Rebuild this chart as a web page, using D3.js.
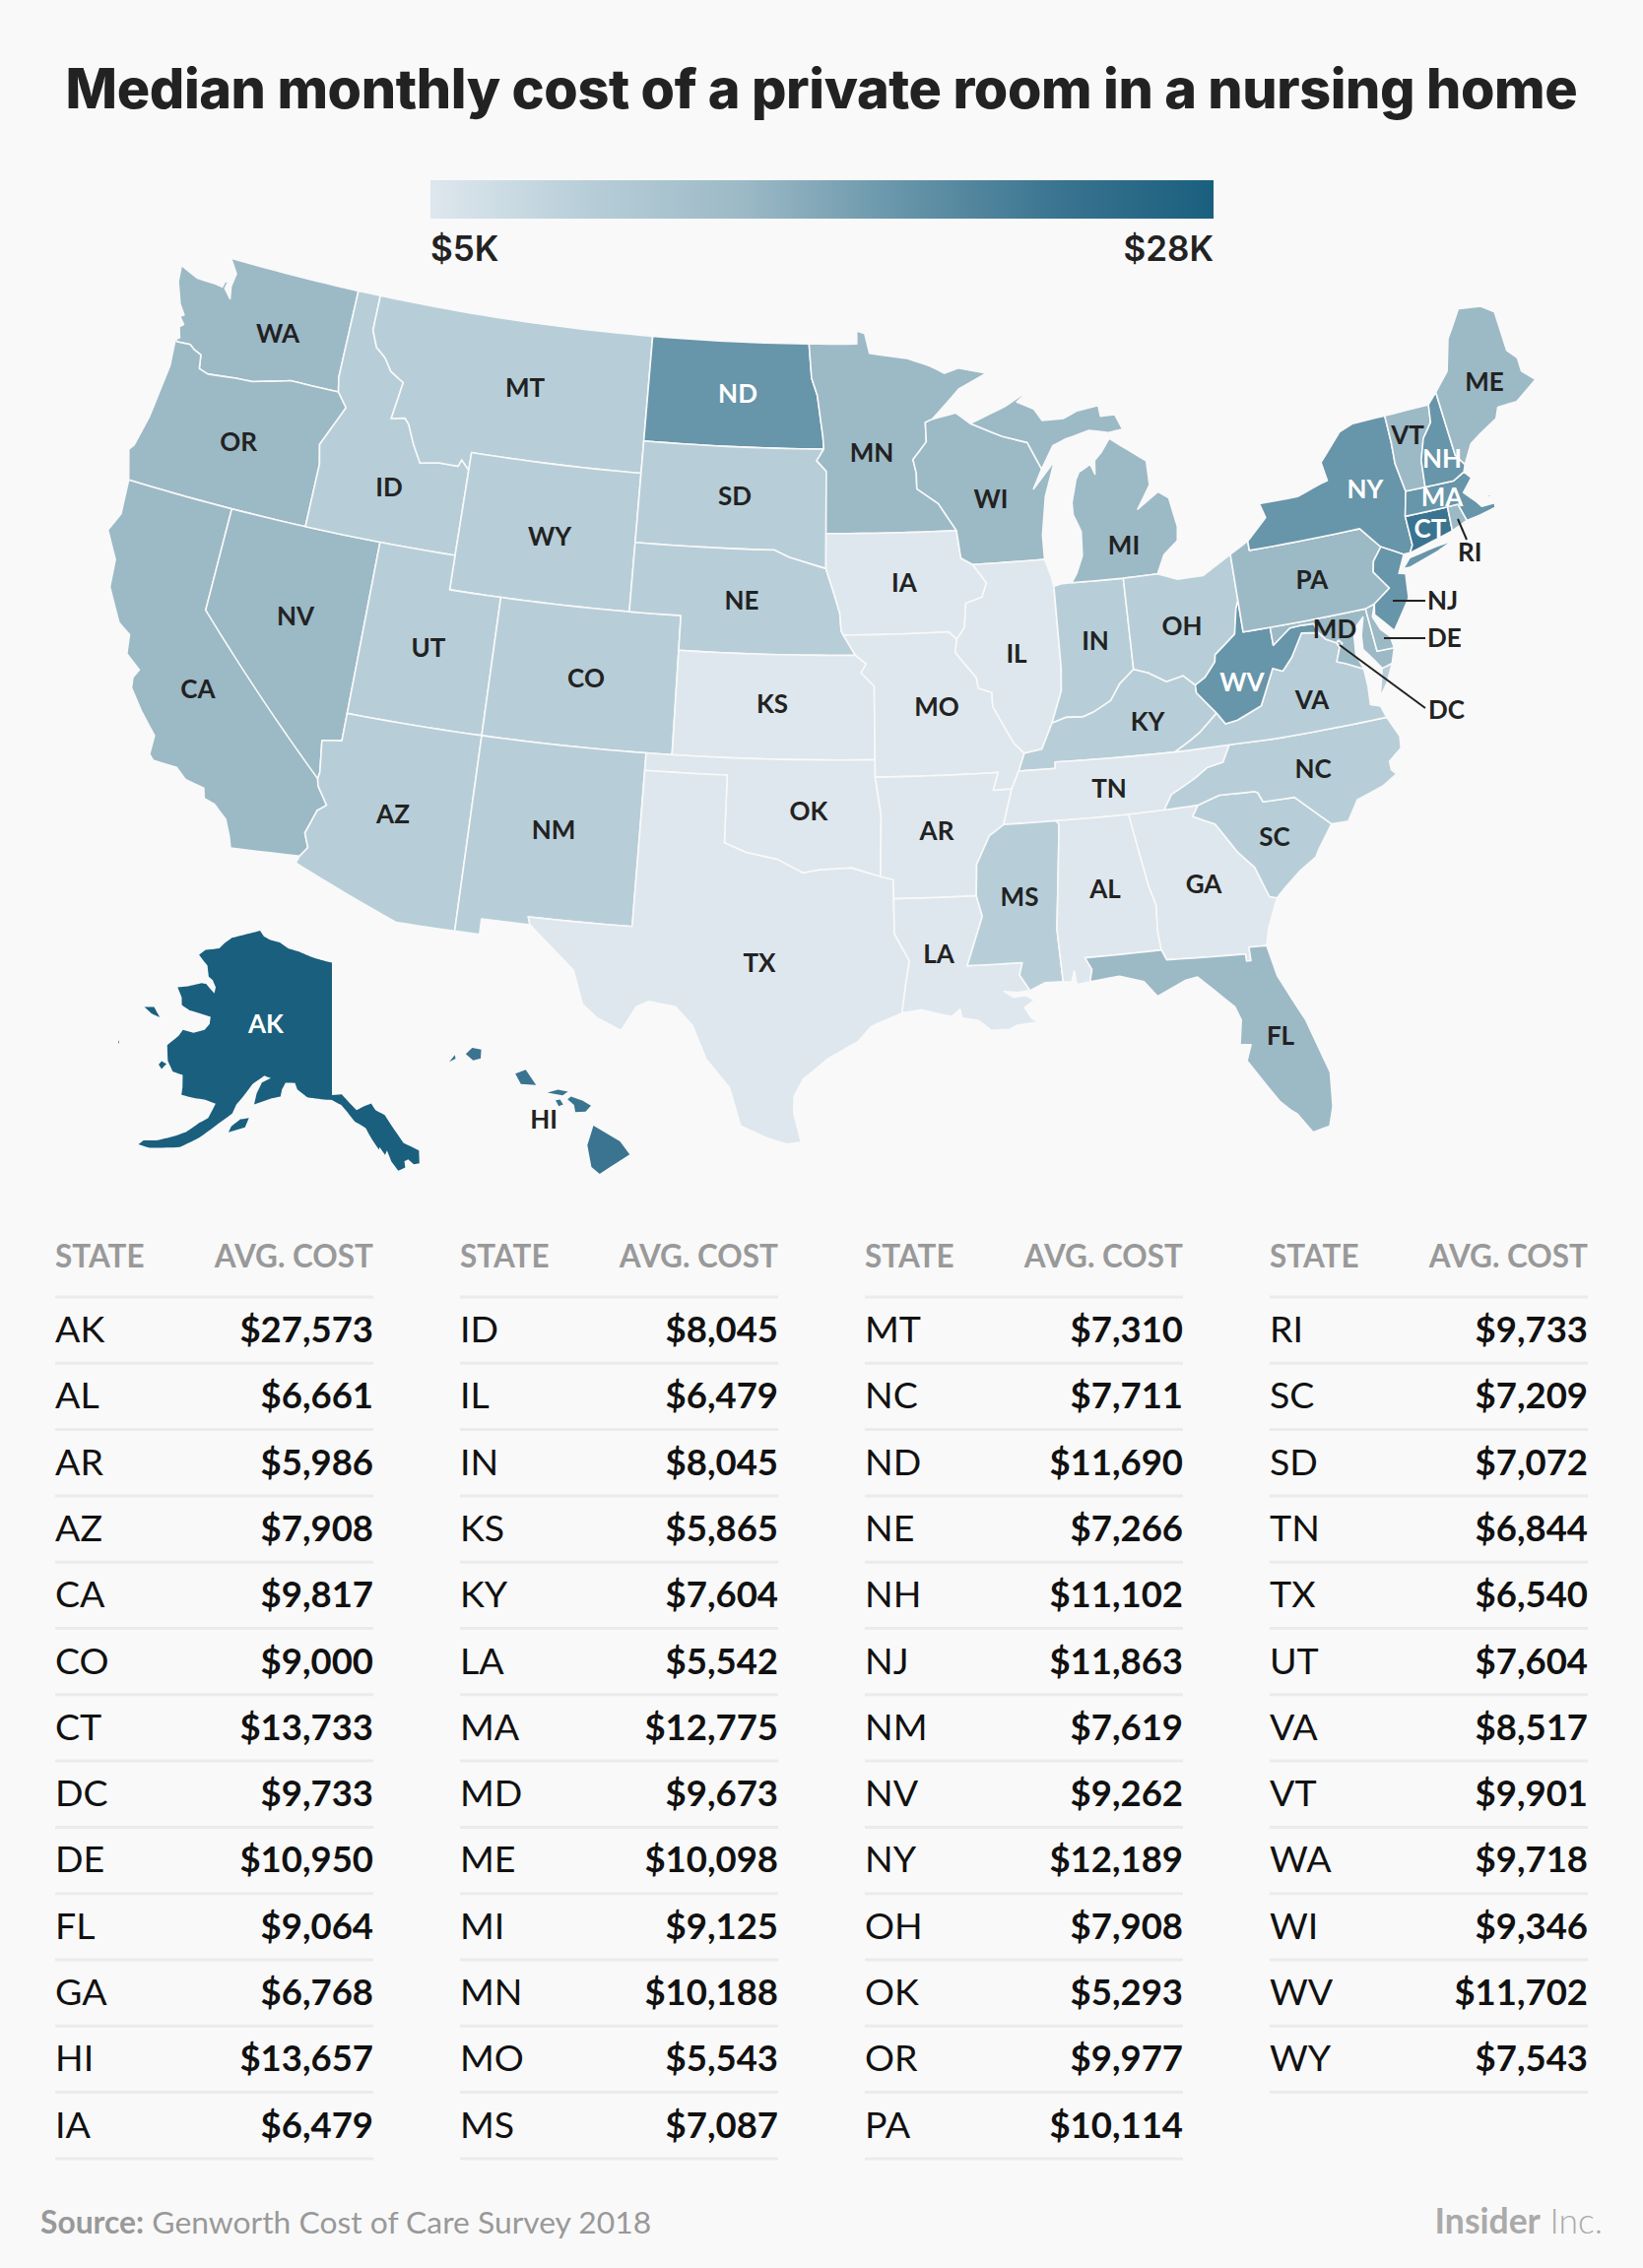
<!DOCTYPE html>
<html>
<head>
<meta charset="utf-8">
<script src="https://cdn.jsdelivr.net/npm/d3@7"></script>
<style>
  html, body { margin: 0; background: #f9f9f9; }
  svg { display: block; }
</style>
</head>
<body>
<svg id="chart" width="1668" height="2303"></svg>
<script>
'use strict'

const stateCodes = ['AK', 'AL', 'AR', 'AZ', 'CA', 'CO', 'CT', 'DC', 'DE', 'FL', 'GA', 'HI', 'IA',
  'ID', 'IL', 'IN', 'KS', 'KY', 'LA', 'MA', 'MD', 'ME', 'MI', 'MN', 'MO', 'MS',
  'MT', 'NC', 'ND', 'NE', 'NH', 'NJ', 'NM', 'NV', 'NY', 'OH', 'OK', 'OR', 'PA',
  'RI', 'SC', 'SD', 'TN', 'TX', 'UT', 'VA', 'VT', 'WA', 'WI', 'WV', 'WY']
const stateCosts = [27573, 6661, 5986, 7908, 9817, 9000, 13733, 9733, 10950, 9064, 6768, 13657, 6479,
  8045, 6479, 8045, 5865, 7604, 5542, 12775, 9673, 10098, 9125, 10188, 5543, 7087,
  7310, 7711, 11690, 7266, 11102, 11863, 7619, 9262, 12189, 7908, 5293, 9977, 10114,
  9733, 7209, 7072, 6844, 6540, 7604, 8517, 9901, 9718, 9346, 11702, 7543]

const binLimits = [7000, 9001, 11000, 13000, 20000]
const binColours = ['#dee7ed', '#b7ced8', '#9cb9c6', '#6795a9', '#3a7490', '#1a5f7e']
const legendStops = ['#dee7ed', '#b7ced8', '#9cb9c6', '#6795a9', '#3a7490', '#1a5f7e']
const legendLabels = ['$5K', '$28K']
const whiteLabels = ['ND', 'NY', 'NH', 'MA', 'CT', 'WV', 'AK']

// shared borders, lon,lat
const arcs = {
  columbia: '-118.98,46 -119.3,45.93 -120.5,45.7 -121.2,45.67 -122,45.6 -122.35,45.57 -122.75,45.65 -122.85,46.05 -123.2,46.15 -123.4,46.25 -123.95,46.22 -124.05,46.27',
  snake: '-117.03,43.85 -117.2,44.4 -116.9,44.9 -116.47,45.6 -116.92,46',
  bitterroot: '-116.05,47.97 -115.75,47.5 -115.3,47.25 -114.95,46.9 -114.35,46.65 -114.55,45.56 -114,45.65 -113.8,45.5 -113.45,44.95 -113.05,44.45 -112.3,44.55 -111.5,44.55 -111.4,44.75 -111.05,44.48',
  colorado: '-114.75,36.1 -114.6,35.2 -114.63,35 -114.57,34.8 -114.14,34.3 -114.43,34.1 -114.7,33.4 -114.5,33 -114.72,32.72',
  redN: '-97.23,49 -97.1,48 -96.85,47.5 -96.6,46.3 -96.56,45.94',
  moIa: '-96.45,42.49 -96.1,41.7 -95.9,41.2 -95.85,40.7 -95.77,40.58',
  redS: '-100,34.56 -99.2,34.3 -98.1,34.13 -97.2,33.75 -96.6,33.85 -95.5,33.9 -94.48,33.64',
  sabine: '-94.04,31.99 -93.55,31.2 -93.7,30.5 -93.84,29.7',
  missMn: '-92.29,46.1 -92.87,45.6 -92.75,45.2 -92.75,44.75 -91.9,44.3 -91.22,43.5',
  missWi: '-91.22,43.5 -91.1,42.7 -90.65,42.5',
  missIl: '-90.65,42.5 -90.15,41.95 -90.35,41.55 -91,41.4 -91.1,40.7 -91.42,40.38',
  missMo: '-91.42,40.38 -91.5,40 -90.75,39.25 -90.7,38.95 -90.2,38.8 -90.2,38.4 -89.5,37.3 -89.15,37',
  kyMo: '-89.15,37 -89.4,36.5',
  tnMo: '-89.4,36.5 -89.7,36',
  tnAr: '-89.7,36 -90.07,35',
  arMs: '-90.07,35 -90.6,34.7 -91.1,33.9 -91.17,33',
  msLa: '-91.17,33 -91,32.4 -91.6,31',
  ilKy: '-89.15,37 -88.5,37.08 -88.05,37.8',
  inKy: '-88.05,37.8 -87.5,37.93 -86.9,37.9 -86.5,38 -85.8,38.28 -85.4,38.73 -84.82,39.1',
  ohKy: '-84.82,39.1 -84.3,38.95 -83.65,38.63 -83,38.73 -82.6,38.42',
  ohWv: '-82.6,38.42 -82.2,38.6 -81.75,39 -81.7,39.2 -80.85,39.7 -80.65,40.4 -80.52,40.64',
  wabash: '-88.05,37.8 -87.6,38.7 -87.53,39.35',
  kyWv: '-82.6,38.42 -82.6,38.2 -81.97,37.54',
  kyVa: '-81.97,37.54 -82.7,37.05 -83.1,36.85 -83.68,36.6',
  wvVa: '-81.97,37.54 -81.7,37.2 -81.25,37.25 -80.3,37.55 -79.65,38.55 -79.3,38.42 -78.87,38.77 -78.35,39.4 -77.72,39.32',
  wvMd: '-77.72,39.32 -77.83,39.6 -78.4,39.62 -78.75,39.6 -79.48,39.2',
  vaMd: '-77.72,39.32 -77.5,39.1 -77.12,38.93 -77.04,38.79 -77.25,38.4 -76.95,38.3 -76.32,38.04',
  ncTn: '-81.68,36.59 -82,36.12 -82.6,36.03 -83.1,35.77 -84,35.4 -84.32,34.99',
  ncSc: '-78.55,33.86 -79.67,34.8 -80.8,34.82 -80.93,35.1 -81.05,35.15 -82.3,35.2 -83.11,35',
  savannah: '-83.11,35 -83.35,34.7 -82.6,34.4 -81.95,33.5 -81.45,33 -81.1,32.1 -80.85,32.03',
  alGa: '-85.6,34.98 -85.18,32.87 -85,32.3 -85.05,31.55 -85,31',
  flGa: '-85,31 -84.86,30.7 -82.2,30.57 -82.2,30.36 -82.05,30.36 -82.05,30.75 -81.45,30.72',
  njPa: '-74.7,41.36 -75.1,41 -75.2,40.7 -74.73,40.15 -75.42,39.8',
  vtNh: '-71.5,45.01 -71.6,44.5 -72.05,44.1 -72.35,43.5 -72.46,42.73',
  nyVt: '-73.35,45.01 -73.35,44.2 -73.4,43.6 -73.25,42.75',
  nyNe: '-73.25,42.75 -73.5,42.05 -73.49,41.2 -73.65,41',
  nhMe: '-71.08,45.3 -70.98,43.4 -70.7,43.07',
  miWi: '-90.42,46.57 -89.1,46.13 -88.1,45.9 -87.6,45.1'
}

// each state is a list of rings, each ring a list of coordinate runs or arc names (r: = reversed)
const stateRings = {
  WA: [['-122.76,49 -117.03,49 -117.04,46.42 -116.92,46', 'columbia', '-123.9,46.35 -124.05,46.65 -123.9,46.75 -124.15,46.95 -124,47.02 -124.3,47.3 -124.65,47.9 -124.73,48.38 -123.9,48.16 -123.1,48.15 -122.78,48.12 -122.72,48.3 -122.6,48.3 -122.65,48.1 -122.32,47.85 -122.42,48.2 -122.35,48.6']],
  OR: [['-124.05,46.27 -123.95,45.5 -124.05,44.7 -124.15,43.9 -124.4,43 -124.55,42.84 -124.2,42 -117.03,42', 'snake', 'columbia']],
  CA: [['-124.2,42 -120,42 -120,39', 'colorado', '-117.12,32.53 -117.25,32.85 -117.5,33.3 -118,33.65 -118.4,33.75 -118.5,34.03 -119.2,34.15 -119.6,34.42 -120.47,34.45 -120.65,34.6 -120.65,35.15 -121.3,35.7 -121.9,36.3 -121.95,36.6 -121.8,36.85 -122.4,37.2 -122.5,37.75 -123,38 -123.7,38.9 -123.8,39.7 -124.4,40.45 -124.1,41']],
  NV: [['-120,42 -114.04,42 -114.04,36.2 -114.75,36.1 -114.6,35.2 -114.63,35 -120,39']],
  ID: [['-117.03,49 -116.05,49', 'bitterroot', '-111.05,42 -117.03,42', 'snake', '-117.04,46.42']],
  MT: [['-116.05,49 -104.05,49 -104.05,45 -111.05,45', 'r:bitterroot']],
  WY: [['-111.05,45 -104.05,45 -104.05,41 -111.05,41']],
  UT: [['-114.04,42 -111.05,42 -111.05,41 -109.05,41 -109.05,37 -114.04,37']],
  CO: [['-109.05,41 -102.05,41 -102.05,37 -109.05,37']],
  AZ: [['-114.04,37 -109.05,37 -109.05,31.33 -111.07,31.33 -114.81,32.5', 'r:colorado', '-114.04,36.2']],
  NM: [['-109.05,37 -103,37 -103.04,32 -106.62,32 -106.53,31.78 -108.2,31.78 -108.2,31.33 -109.05,31.33']],
  ND: [['-104.05,49', 'redN', '-104.05,45.94']],
  SD: [['-104.05,45.94 -96.56,45.94 -96.85,45.6 -96.45,45.3 -96.45,42.49 -97.9,42.8 -98.5,43 -104.05,43']],
  NE: [['-104.05,43 -98.5,43 -97.9,42.8', 'moIa', '-95.31,40 -102.05,40 -102.05,41 -104.05,41']],
  KS: [['-102.05,40 -95.31,40 -94.9,39.75 -95.1,39.5 -94.61,39.11 -94.62,37 -102.05,37']],
  OK: [['-103,37 -94.62,37 -94.62,36.5 -94.43,35.4', 'r:redS', '-100,36.5 -103,36.5']],
  TX: [['-106.62,32 -103.04,32 -103,36.5 -100,36.5', 'redS', '-94.04,33.55', 'sabine', '-94.7,29.4 -94.9,29.3 -95.3,28.9 -96.3,28.4 -97.1,27.8 -97.4,27.3 -97.4,26.8 -97.15,25.96 -97.6,25.9 -98.2,26.05 -99.1,26.4 -99.5,27.5 -100.3,28.3 -100.8,29.25 -101.4,29.77 -102.3,29.88 -102.7,29.7 -103.15,28.98 -104,29.3 -104.5,29.65 -104.9,30.6 -106,31.4 -106.53,31.78']],
  MN: [['-97.23,49 -95.15,49 -95.15,49.38 -94.8,49.3 -94.6,48.72 -93,48.55 -92,48.3 -91.4,48.07 -90.8,48.2 -89.6,48 -90.8,47.6 -92,46.75 -92.3,46.66', 'missMn', '-96.45,43.5 -96.45,45.3 -96.85,45.6', 'r:redN']],
  IA: [['-96.45,43.5', 'missWi', 'missIl', '-91.72,40.6', 'r:moIa']],
  MO: [['-95.77,40.58 -91.72,40.6', 'missMo', 'kyMo', 'tnMo', '-90.37,36 -90.15,36.5 -94.62,36.5 -94.62,37 -94.61,39.11 -95.1,39.5 -94.9,39.75 -95.31,40']],
  AR: [['-94.62,36.5 -90.15,36.5 -90.37,36', 'tnAr', 'arMs', '-94.04,33 -94.04,33.55 -94.48,33.64 -94.43,35.4']],
  LA: [['-94.04,33', 'msLa', '-89.73,31 -89.85,30.65 -89.53,30.18 -89.95,30.15 -90.4,30.2 -90.1,30.02 -89.7,30.05 -89.4,29.9 -89.75,29.7 -89.55,29.4 -89.1,29.1 -89.45,29.25 -90.05,29.2 -90.3,29.1 -90.9,29.1 -91.3,29.4 -91.85,29.5 -91.9,29.75 -92.2,29.55 -93.2,29.78', 'r:sabine']],
  WI: [['-92.3,46.66 -92,46.75 -91,46.9', 'miWi', '-88,44.55 -87.05,45.3 -87.55,44.3 -87.8,43.2 -87.8,42.5', 'r:missWi', 'r:missMn']],
  IL: [['-90.65,42.5 -87.8,42.5 -87.6,42 -87.53,41.7', 'r:wabash', 'r:ilKy', 'r:missMo', 'r:missIl']],
  IN: [['-87.53,41.7 -87.2,41.76 -86.82,41.76 -84.8,41.73 -84.82,39.1', 'r:inKy', 'wabash']],
  MI: [['-86.82,41.76 -84.8,41.73 -83.45,41.73 -83.1,42.25 -82.5,42.6 -82.42,43 -82.6,43.85 -83,44.07 -83.9,43.65 -83.3,44.3 -83.3,45 -84.7,45.78 -85.1,45.4 -85.4,45.2 -85.45,44.8 -85.6,45.1 -86.1,44.9 -86.25,44.7 -86.5,44.05 -86.5,43.7 -86.25,43.2 -86.3,42.5 -86.6,42'],
    ['miWi', '-87.05,45.75 -86.5,45.9 -85.5,46.08 -84.7,45.95 -84.1,46 -84.35,46.45 -84.95,46.45 -85,46.77 -85.9,46.68 -86.5,46.5 -87.4,46.5 -87.7,46.85 -88.4,47.1 -87.75,47.45 -88.9,47']],
  OH: [['-84.8,41.73 -83.45,41.73 -82.7,41.5 -81.7,41.5 -80.52,41.98', 'r:ohWv', 'r:ohKy']],
  KY: [['-88.07,36.5 -89.4,36.5', 'r:kyMo', 'ilKy', 'inKy', 'ohKy', 'kyWv', 'kyVa', '-88.05,36.68']],
  TN: [['-90.07,35', 'r:tnAr', 'r:tnMo', '-88.07,36.5 -88.05,36.68 -83.68,36.6', 'ncTn', '-85.6,34.98 -88.2,35']],
  MS: [['-91.17,33', 'r:arMs', '-88.2,35 -88.1,34.9 -88.47,31.9 -88.4,30.37 -89,30.38 -89.53,30.18 -89.85,30.65 -89.73,31 -91.6,31', 'r:msLa']],
  AL: [['-88.2,35', 'alGa', '-87.6,31 -87.4,30.65 -87.5,30.3 -87.95,30.25 -88,30.65 -88.12,30.33 -88.4,30.37 -88.47,31.9 -88.1,34.9']],
  GA: [['-85.6,34.98 -84.32,34.99', 'savannah', '-81.3,31.2', 'r:flGa', 'r:alGa']],
  FL: [['-87.6,31', 'flGa', '-81.25,29.8 -80.55,28.4 -80.05,26.8 -80.15,25.8 -80.35,25.25 -80.9,25.15 -81.3,25.75 -81.5,25.9 -81.8,26.2 -82.65,27.5 -82.45,27.95 -82.8,28 -82.65,28.7 -82.8,29.1 -83.4,29.65 -83.9,30.1 -84.3,30.05 -85.3,29.68 -85.7,30.15 -86.5,30.38 -87.5,30.3 -87.4,30.65']],
  SC: [['ncSc', 'savannah', '-80.5,32.3 -79.9,32.7 -79.3,33 -79.15,33.2']],
  NC: [['-84.32,34.99', 'r:ncTn', '-80,36.55 -75.87,36.55 -75.55,35.95 -75.6,35.6 -76.1,35.3 -76.1,35.05 -75.95,34.9 -76.5,34.65 -77.5,34.4 -77.95,33.85', 'ncSc']],
  VA: [['-83.68,36.6 -81.68,36.59 -80,36.55 -75.87,36.55 -76,36.9 -76.35,37 -76.3,37.55', 'r:vaMd', 'r:wvVa', 'kyVa'],
    ['-75.95,37.15 -75.65,37.95 -75.25,38.03 -75.6,37.5']],
  WV: [['ohWv', '-80.52,39.72 -79.48,39.72', 'r:wvMd', 'r:wvVa', 'r:kyWv']],
  MD: [['-79.48,39.72 -75.79,39.72 -75.7,38.46 -75.05,38.45 -75.25,38.03 -75.65,37.95 -75.85,38.2 -76.2,38.6 -76.15,39 -75.95,39.5 -76.4,39.2 -76.5,38.5', 'r:vaMd', 'wvMd']],
  DE: [['-75.79,39.72 -75.42,39.8 -75.6,39.45 -75.4,39.05 -75.1,38.8 -75.05,38.45 -75.7,38.46']],
  DC: [['-77.12,38.93 -77.04,39 -76.91,38.89 -77.04,38.79']],
  PA: [['-80.52,41.98 -80.08,42.15 -79.76,42.27 -79.76,42 -75.35,42', 'njPa', '-75.79,39.72 -80.52,39.72']],
  NY: [['-79.76,42 -79.76,42.27 -78.9,42.85 -79.05,43.27 -77.5,43.27 -76.5,43.5 -76.2,43.55 -76.3,44.1 -75.3,44.85 -74.7,45', 'nyVt', 'nyNe', '-73.9,41 -74.7,41.36 -75.35,42'],
    ['-74.05,40.6 -73.75,40.6 -72.6,40.85 -71.9,41.05 -72.6,41 -73.7,40.87']],
  NJ: [['-74.7,41.36 -73.9,41 -74.25,40.5 -74,40.45 -74.1,39.75 -74.9,38.93 -75.5,39.5', 'r:njPa']],
  CT: [['-73.5,42.05 -71.8,42.02 -71.85,41.32 -73.65,41 -73.49,41.2']],
  RI: [['-71.8,42.02 -71.38,42.02 -71.2,41.5 -71.85,41.32']],
  MA: [['-73.25,42.75 -72.46,42.73 -71.3,42.7 -70.82,42.87 -70.6,42.65 -71.05,42.3 -70.65,41.95 -70.5,41.78 -70,41.78 -70.05,42.05 -70.25,42.07 -69.95,41.9 -70,41.65 -70.65,41.55 -71.2,41.5 -71.38,42.02 -71.8,42.02 -73.5,42.05']],
  VT: [['nyVt', 'r:vtNh']],
  NH: [['vtNh', '-71.3,42.7 -70.82,42.87', 'r:nhMe']],
  ME: [['nhMe', '-70.25,43.6 -69.8,43.8 -69,44.1 -68.8,44.4 -68,44.4 -67,44.85 -67.45,45.2 -67.45,45.6 -67.78,45.9 -67.8,47.07 -68.3,47.35 -69,47.43 -69.23,47.46 -70,46.7 -70.4,45.8']],
  AK: [['-141,69.65 -141,60.3 -139.6,60.35 -139,60 -137.6,59.2 -136.5,59.45 -135.5,59.6 -135,59.1 -133.8,58.7 -131.8,56.6 -130,55.9 -130.2,55 -130.9,55 -131.5,55.4 -132,55.3 -132,54.85 -132.9,54.7 -133.6,55.4 -134,56.2 -134.3,55.9 -134.9,56.5 -135,56.3 -135.9,57.2 -136.5,57.9 -137.3,58.2 -137.9,58.4 -138.9,59.1 -139.7,59.6 -141,59.95 -142.5,60 -144.5,60.1 -146,60.6 -146.4,61.05 -147.8,61 -148.2,60.5 -148.3,60 -149.5,59.8 -151.8,59.2 -151.7,60 -151.2,60.8 -150,61.2 -151,61.3 -152.5,60.6 -153.5,59.6 -154.2,59 -154.5,58.3 -156,57.4 -158,56.1 -160,55.1 -162,54.7 -163.5,54.4 -164.9,54.35 -164.5,54.75 -163,55.05 -161,55.75 -159.8,56.25 -158.5,57.1 -157.5,57.6 -157,58.7 -158.5,58.8 -160,58.7 -161.8,58.65 -162,59.2 -162.5,60 -164,60 -165.2,60.6 -166.1,61.6 -165,62.5 -164.7,63 -163,63.05 -161.5,63.5 -161,64 -161.2,64.5 -162.8,64.5 -164.8,64.45 -166.3,64.6 -166.8,65.1 -168.1,65.65 -166.5,66 -164.5,66.55 -163.7,66.6 -161.8,66.15 -161.9,66.6 -162.8,67 -163.7,67.15 -164.6,67.85 -166.8,68.35 -166,68.85 -163.6,69.3 -163,69.75 -161.9,70.3 -159.5,70.8 -156.6,71.35 -155.5,71 -154,70.85 -152,70.8 -150,70.45 -148,70.35 -145,70'],
    ['-154.5,56.95 -152.5,57.5 -152.2,58.2 -153.3,58 -154.3,57.4'],
    ['-166.2,60.1 -165.6,59.9 -165.2,60.35 -166,60.4'],
    ['-171.7,63.4 -170.3,63.7 -168.8,63.2 -170.2,63.2'],
    ['-172.9,60.5 -172.6,60.35 -172.7,60.3']],
  HI: [['-159.78,22.05 -159.6,22.23 -159.33,22.2 -159.33,21.95 -159.55,21.88'],
    ['-160.25,21.8 -160.1,22 -160.07,21.9'],
    ['-158.28,21.58 -157.98,21.71 -157.65,21.3 -158.1,21.3'],
    ['-157.3,21.1 -157,21.2 -156.7,21.16 -156.85,21.05'],
    ['-157.05,20.9 -156.92,20.93 -156.82,20.8 -156.95,20.74'],
    ['-156.7,20.95 -156.6,21.03 -156.25,20.93 -156,20.8 -156.15,20.63 -156.45,20.6 -156.5,20.8'],
    ['-155.9,20.25 -155.6,20.1 -155.1,19.85 -154.8,19.5 -155.65,18.92 -155.9,19.1 -156.05,19.7']]
}

// label anchors in page pixels
const labelAt = {
  WA: [282, 339], OR: [242, 449], CA: [201, 700], NV: [300, 626], ID: [395, 495], MT: [533, 394],
  WY: [558, 545], UT: [435, 658], CO: [595, 689], AZ: [399, 827], NM: [562, 843], ND: [749, 400],
  SD: [746, 504], NE: [753, 610], KS: [784, 715], OK: [821, 824], TX: [771, 978], MN: [885, 460],
  IA: [918, 592], MO: [951, 718], AR: [951, 844], LA: [953, 969], WI: [1006, 507], IL: [1032, 664],
  MI: [1141, 554], IN: [1112, 651], OH: [1200, 636], KY: [1165, 733], TN: [1126, 801], MS: [1035, 911],
  AL: [1122, 903], GA: [1222, 898], FL: [1300, 1052], SC: [1294, 850], NC: [1333, 781], VA: [1332, 711],
  WV: [1261, 693], PA: [1332, 589], NY: [1386, 497], VT: [1429, 442], NH: [1464, 466], MA: [1464, 505],
  CT: [1452, 537], ME: [1507, 388], MD: [1355, 639], AK: [270, 1040], HI: [552, 1137],
  RI: [1498, 561], NJ: [1467, 610], DE: [1467, 648], DC: [1468, 721]
}
const leaderLines = [
  [1480, 527, 1489, 548],
  [1414, 610, 1447, 610],
  [1405, 648, 1447, 648],
  [1360, 655, 1447, 719]
]

const inkColour = '#222222'
const svg = d3.select('#chart')

svg.append('rect').attr('width', 1668).attr('height', 2303).attr('fill', '#f9f9f9')

svg.append('text')
  .attr('x', 834).attr('y', 110)
  .attr('text-anchor', 'middle')
  .attr('font-family', 'Inter').attr('font-weight', 800).attr('font-size', 55.7)
  .attr('letter-spacing', -0.4)
  .attr('fill', inkColour)
  .text('Median monthly cost of a private room in a nursing home')

// legend
const grad = svg.append('defs').append('linearGradient').attr('id', 'legendGrad')
grad.selectAll('stop').data(legendStops).join('stop')
  .attr('offset', (d, i) => i / (legendStops.length - 1))
  .attr('stop-color', d => d)
svg.append('rect').attr('x', 437).attr('y', 183).attr('width', 795).attr('height', 39).attr('fill', 'url(#legendGrad)')
svg.selectAll('.legend-label').data(legendLabels).join('text')
  .attr('class', 'legend-label')
  .attr('x', (d, i) => i ? 1232 : 437)
  .attr('y', 265)
  .attr('text-anchor', (d, i) => i ? 'end' : 'start')
  .attr('font-family', 'Inter').attr('font-weight', 600).attr('font-size', 35)
  .attr('fill', inkColour)
  .text(d => d)

// map
const parseRun = s => s.trim().split(/\s+/).map(p => p.split(',').map(Number))
function ringPoints (tokens) {
  const pts = []
  tokens.forEach(t => {
    if (t.startsWith('r:')) pts.push(...parseRun(arcs[t.slice(2)]).reverse())
    else if (arcs[t]) pts.push(...parseRun(arcs[t]))
    else pts.push(...parseRun(t))
  })
  return pts
}
// split long edges so parallels follow the projection and not a great circle
function fineRing (pts) {
  const out = []
  pts.forEach((p, i) => {
    const q = pts[(i + 1) % pts.length]
    const n = Math.ceil(Math.hypot(q[0] - p[0], q[1] - p[1]) / 0.5) || 1
    for (let k = 0; k < n; k++) out.push([p[0] + (q[0] - p[0]) * k / n, p[1] + (q[1] - p[1]) * k / n])
  })
  out.push(out[0])
  return out
}
function stateFeature (code) {
  const polys = stateRings[code].map(tokens => {
    const ring = fineRing(ringPoints(tokens))
    return d3.geoArea({ type: 'Polygon', coordinates: [ring] }) > 2 * Math.PI ? [ring.reverse()] : [ring]
  })
  return { type: 'Feature', id: code, geometry: { type: 'MultiPolygon', coordinates: polys } }
}

const lowerProjection = d3.geoConicEqualArea().parallels([29.5, 45.5])
  .rotate([96, 0]).center([0, 37.5]).translate([850, 754]).scale(2010).precision(0.2)
const alaskaProjection = d3.geoConicEqualArea().parallels([55, 65])
  .rotate([141, 0]).center([0, 60.3]).translate([337, 1112]).scale(825).precision(0.2)
const hawaiiProjection = d3.geoConicEqualArea().parallels([8, 18])
  .rotate([157, 0]).center([0, 20.5]).translate([565, 1132]).scale(2100).angle(-3).precision(0.2)

const pathFor = code => d3.geoPath(code === 'AK' ? alaskaProjection : code === 'HI' ? hawaiiProjection : lowerProjection)
const costByState = new Map(stateCodes.map((c, i) => [c, stateCosts[i]]))
const colour = d3.scaleThreshold().domain(binLimits).range(binColours)

svg.append('g').selectAll('path')
  .data(Object.keys(stateRings).map(stateFeature))
  .join('path')
  .attr('d', d => pathFor(d.id)(d))
  .attr('fill', d => colour(costByState.get(d.id)))
  .attr('stroke', d => (d.id === 'AK' || d.id === 'HI') ? 'none' : '#f9f9f9')
  .attr('stroke-width', 1.6)
  .attr('stroke-linejoin', 'round')

svg.append('g').selectAll('line').data(leaderLines).join('line')
  .attr('x1', d => d[0]).attr('y1', d => d[1])
  .attr('x2', d => d[2]).attr('y2', d => d[3])
  .attr('stroke', inkColour).attr('stroke-width', 2)

svg.append('g').selectAll('text').data(stateCodes).join('text')
  .attr('x', d => labelAt[d][0])
  .attr('y', d => labelAt[d][1])
  .attr('dy', '0.36em')
  .attr('text-anchor', d => ['RI', 'NJ', 'DE', 'DC'].includes(d) ? 'start' : 'middle')
  .attr('dx', d => ['RI', 'NJ', 'DE', 'DC'].includes(d) ? -18 : 0)
  .attr('font-family', 'Lato').attr('font-weight', 700).attr('font-size', 26)
  .attr('fill', d => whiteLabels.includes(d) ? '#ffffff' : inkColour)
  .text(d => d)

// table
const perColumn = 13
const colLeft = d3.scaleLinear().domain([0, 1]).range([56, 467])
const rowLine = d3.scaleLinear().domain([0, 1]).range([1317, 1384.3])
const colWidth = 323

const columns = d3.range(4).map(c => stateCodes.slice(c * perColumn, (c + 1) * perColumn)
  .map((code, i) => ({ code, cost: stateCosts[c * perColumn + i], row: i })))

const cols = svg.append('g').selectAll('g').data(columns).join('g')
  .attr('transform', (d, i) => `translate(${colLeft(i)},0)`)

cols.append('text').attr('y', 1287).attr('font-family', 'Lato').attr('font-weight', 700)
  .attr('font-size', 31.5).attr('fill', '#999999').text('STATE')
cols.append('text').attr('x', colWidth).attr('y', 1287).attr('text-anchor', 'end').attr('font-family', 'Lato')
  .attr('font-weight', 700).attr('font-size', 31.5).attr('fill', '#999999').text('AVG. COST')
cols.append('line').attr('x2', colWidth).attr('y1', rowLine(0)).attr('y2', rowLine(0))
  .attr('stroke', '#ebebeb').attr('stroke-width', 3)

const rows = cols.selectAll('.row').data(d => d).join('g').attr('class', 'row')
rows.append('text').attr('y', d => rowLine(d.row) + 46)
  .attr('font-family', 'Lato').attr('font-size', 37.5).attr('fill', '#111111').text(d => d.code)
rows.append('text').attr('x', colWidth).attr('y', d => rowLine(d.row) + 46).attr('text-anchor', 'end')
  .attr('font-family', 'Lato').attr('font-weight', 700).attr('font-size', 36.5).attr('fill', '#111111')
  .text(d => '$' + d3.format(',')(d.cost))
rows.append('line').attr('x2', colWidth).attr('y1', d => rowLine(d.row + 1)).attr('y2', d => rowLine(d.row + 1))
  .attr('stroke', '#ebebeb').attr('stroke-width', 3)

// footer
const source = svg.append('text').attr('x', 41).attr('y', 2268)
  .attr('font-family', 'Lato').attr('font-size', 31.8).attr('fill', '#999999')
source.append('tspan').attr('font-weight', 700).text('Source:')
source.append('tspan').text(' Genworth Cost of Care Survey 2018')

const brand = svg.append('text').attr('x', 1627).attr('y', 2268).attr('text-anchor', 'end')
  .attr('font-family', 'Lato').attr('font-size', 35.5).attr('fill', '#aaaaaa')
brand.append('tspan').attr('font-weight', 700).text('Insider')
brand.append('tspan').attr('font-weight', 300).text(' Inc.')
</script>
</body>
</html>
